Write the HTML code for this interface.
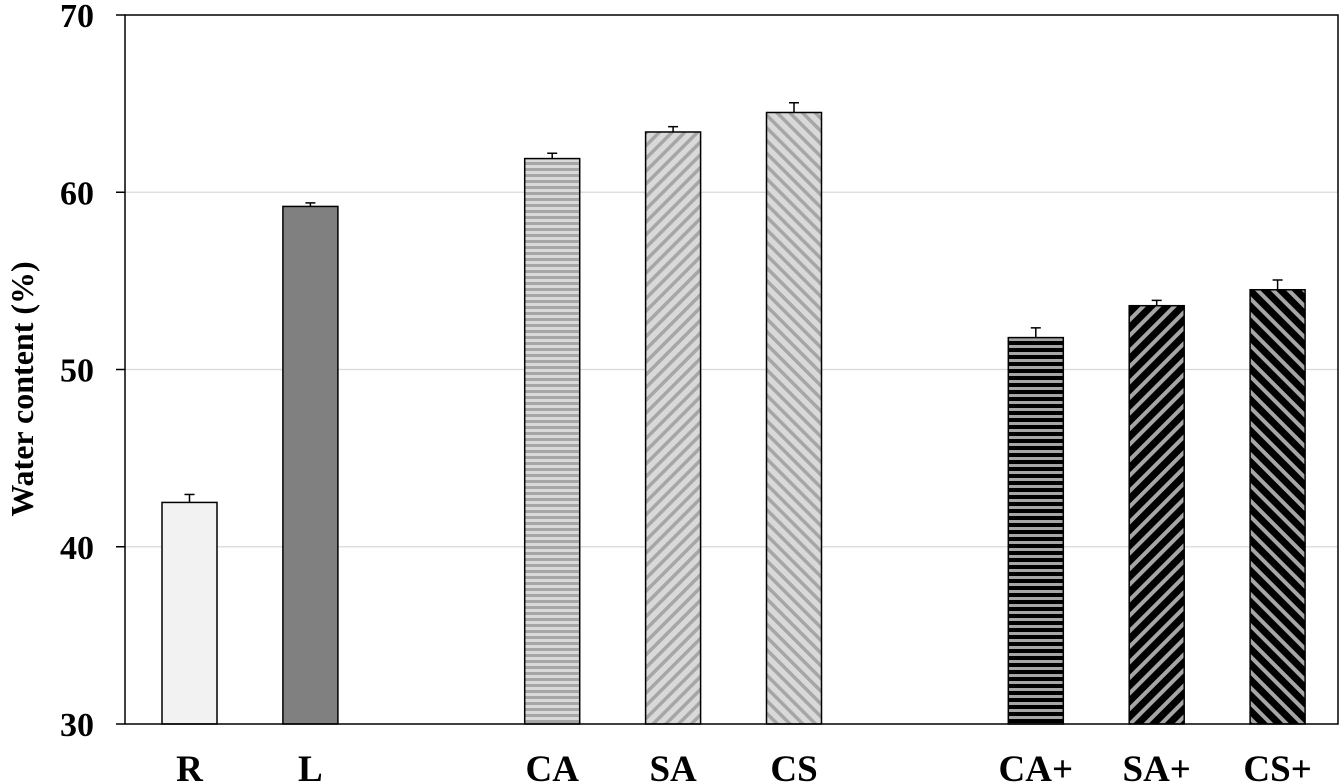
<!DOCTYPE html>
<html><head><meta charset="utf-8"><style>
html,body{margin:0;padding:0;background:#fff;width:1339px;height:783px;overflow:hidden}
text{font-family:"Liberation Serif",serif;font-weight:bold}
</style></head><body>
<svg width="1339" height="783" xmlns="http://www.w3.org/2000/svg">
<defs>
<pattern id="pCAl" width="6" height="6" patternUnits="userSpaceOnUse"><rect width="6" height="6" fill="#d9d9d9"/><rect y="0" width="6" height="3" fill="#a6a6a6"/></pattern>
<pattern id="pSAl" width="9" height="9" patternUnits="userSpaceOnUse" patternTransform="rotate(45)"><rect width="9" height="9" fill="#d9d9d9"/><rect width="3.5" height="9" fill="#a6a6a6"/></pattern>
<pattern id="pCSl" width="9" height="9" patternUnits="userSpaceOnUse" patternTransform="rotate(-45)"><rect width="9" height="9" fill="#d9d9d9"/><rect width="3.5" height="9" fill="#a6a6a6"/></pattern>
<pattern id="pCAd" width="7" height="7" patternUnits="userSpaceOnUse"><rect width="7" height="7" fill="#000"/><rect y="2" width="7" height="3" fill="#a6a6a6"/></pattern>
<pattern id="pSAd" width="11" height="11" patternUnits="userSpaceOnUse" patternTransform="rotate(45)"><rect width="11" height="11" fill="#000"/><rect width="4" height="11" fill="#a6a6a6"/></pattern>
<pattern id="pCSd" width="11" height="11" patternUnits="userSpaceOnUse" patternTransform="rotate(-45)"><rect width="11" height="11" fill="#000"/><rect width="4" height="11" fill="#a6a6a6"/></pattern>
</defs>
<g id="grid"></g>
<g id="bars"></g>
<rect x="125" y="15" width="1213" height="709" fill="none" stroke="#000" stroke-width="1.5"/>
<g id="axis"></g>
<text x="0" y="0" font-size="32" text-anchor="middle" transform="translate(22,389) rotate(-90)" dy="11">Water content (%)</text>
</svg>
<script>
const categories=["R","L","","CA","SA","CS","","CA+","SA+","CS+"];
const values=[42.5,59.2,null,61.9,63.4,64.5,null,51.8,53.6,54.5];
const errors=[0.45,0.2,null,0.3,0.3,0.55,null,0.55,0.3,0.55];
const fills=["#f2f2f2","#808080",null,"url(#pCAl)","url(#pSAl)","url(#pCSl)",null,"url(#pCAd)","url(#pSAd)","url(#pCSd)"];
const yTicks=[30,40,50,60,70];
const NS="http://www.w3.org/2000/svg";
const yMin=30,yMax=70,yTop=15,yBot=724;
function y(v){return yBot-(v-yMin)/(yMax-yMin)*(yBot-yTop);}
function x(i){return 189.5+i*120.9;}
function mk(t,a,p){const e=document.createElementNS(NS,t);for(const k in a)e.setAttribute(k,a[k]);p.appendChild(e);return e;}
const grid=document.getElementById('grid'),bars=document.getElementById('bars'),axis=document.getElementById('axis');
yTicks.forEach(t=>{
  if(t>yMin&&t<yMax){const g=mk('line',{x1:125,x2:1338,y1:y(t),y2:y(t),stroke:'#d9d9d9','stroke-width':1.3},grid);
  
  }
  const tk=mk('line',{x1:116,x2:125,y1:y(t),y2:y(t),stroke:'#000','stroke-width':1.5},axis);
  
  
  const tx=mk('text',{x:94,y:y(t)+12,'font-size':34,'text-anchor':'end'},axis);tx.textContent=t;
  
  
});
const bw=55;
categories.forEach((c,i)=>{
  if(values[i]==null)return;
  const cx=x(i),v=values[i];
  const r=mk('rect',{x:cx-bw/2,y:y(v),width:bw,height:yBot-y(v),fill:fills[i],stroke:'#000','stroke-width':1.5},bars);
  
  
  const ye=y(v+errors[i]);
  const e1=mk('line',{x1:cx,x2:cx,y1:y(v),y2:ye,stroke:'#000','stroke-width':1.5},bars);
  
  
  const e2=mk('line',{x1:cx-5,x2:cx+5,y1:ye,y2:ye,stroke:'#000','stroke-width':1.5},bars);
  
  
  const t=mk('text',{x:cx,y:781,'font-size':37,'text-anchor':'middle'},axis);t.textContent=c;
  
  
});
</script>
</body></html>
